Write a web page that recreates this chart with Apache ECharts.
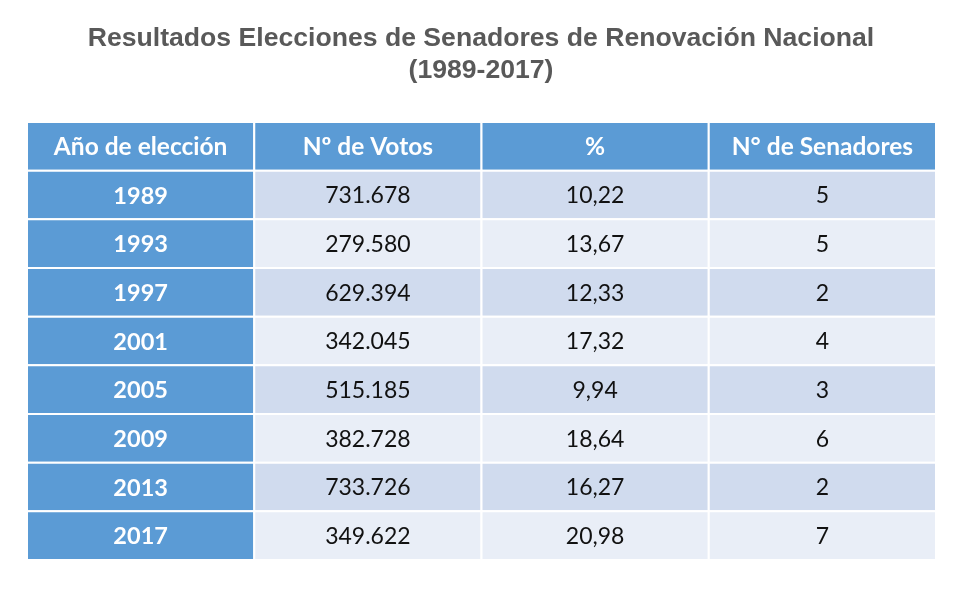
<!DOCTYPE html>
<html>
<head>
    <meta charset="utf-8">
    <title>ECharts</title>
    <script src="https://cdn.jsdelivr.net/npm/echarts@6/dist/echarts.min.js"></script>
    <style>
        html, body { margin: 0; padding: 0; background: #fff; }
    </style>
</head>
<body>
<div id="main" style="width: 963px;height:593px;"></div>
<script type="text/javascript">
    // datos de la tabla
    var headers = ['Año de elección', 'Nº de Votos', '%', 'N° de Senadores'];
    var years = ['1989', '1993', '1997', '2001', '2005', '2009', '2013', '2017'];
    var votos = ['731.678', '279.580', '629.394', '342.045', '515.185', '382.728', '733.726', '349.622'];
    var porcentaje = ['10,22', '13,67', '12,33', '17,32', '9,94', '18,64', '16,27', '20,98'];
    var senadores = ['5', '5', '2', '4', '3', '6', '2', '7'];

    var rowNames = ['h'].concat(years);
    var colNames = ['c0', 'c1', 'c2', 'c3'];

    // celdas: [columna, fila, texto]
    var cells = [];
    headers.forEach(function (h, c) { cells.push([c, 0, h]); });
    years.forEach(function (y, i) {
        cells.push([0, i + 1, y]);
        cells.push([1, i + 1, votos[i]]);
        cells.push([2, i + 1, porcentaje[i]]);
        cells.push([3, i + 1, senadores[i]]);
    });

    var myChart = echarts.init(document.getElementById('main'));

    function renderCell(params, api) {
        var col = api.value(0);
        var row = api.value(1);
        var text = cells[params.dataIndex][2];
        var center = api.coord([col, row]);
        var size = api.size([1, 1]);
        var blue = row === 0 || col === 0;
        var fill = blue ? '#5B9BD5' : (row % 2 === 1 ? '#D0DBEE' : '#E9EEF7');
        var font;
        if (row === 0) font = 'bold 24.5px Lato, sans-serif';
        else if (col === 0) font = 'bold 23.5px Lato, sans-serif';
        else font = '23px Lato, sans-serif';
        return {
            type: 'group',
            children: [{
                type: 'rect',
                shape: {
                    x: center[0] - size[0] / 2,
                    y: center[1] - size[1] / 2,
                    width: size[0],
                    height: size[1]
                },
                style: { fill: fill, stroke: '#ffffff', lineWidth: 2 }
            }, {
                type: 'text',
                x: center[0],
                y: center[1] + 1,
                style: {
                    text: text,
                    fill: blue ? '#ffffff' : '#111111',
                    font: font,
                    align: 'center',
                    verticalAlign: 'middle'
                }
            }]
        };
    }

    var titleFont = 'bold 25px "Liberation Sans", Arial, sans-serif';

    var option = {
        animation: false,
        graphic: [{
            type: 'text',
            x: 481,
            y: 39,
            scaleX: 1.064,
            style: {
                text: 'Resultados Elecciones de Senadores de Renovación Nacional',
                fill: '#595959',
                font: titleFont,
                align: 'center',
                verticalAlign: 'middle'
            }
        }, {
            type: 'text',
            x: 481,
            y: 71,
            scaleX: 1.064,
            style: {
                text: '(1989-2017)',
                fill: '#595959',
                font: titleFont,
                align: 'center',
                verticalAlign: 'middle'
            }
        }],
        grid: { left: 27, right: 27, top: 122, bottom: 33 },
        xAxis: {
            type: 'category',
            data: colNames,
            show: false
        },
        yAxis: {
            type: 'category',
            data: rowNames,
            inverse: true,
            show: false
        },
        series: [{
            type: 'custom',
            renderItem: renderCell,
            data: cells.map(function (c) { return [c[0], c[1]]; })
        }]
    };
    myChart.setOption(option);
</script>
</body>
</html>
